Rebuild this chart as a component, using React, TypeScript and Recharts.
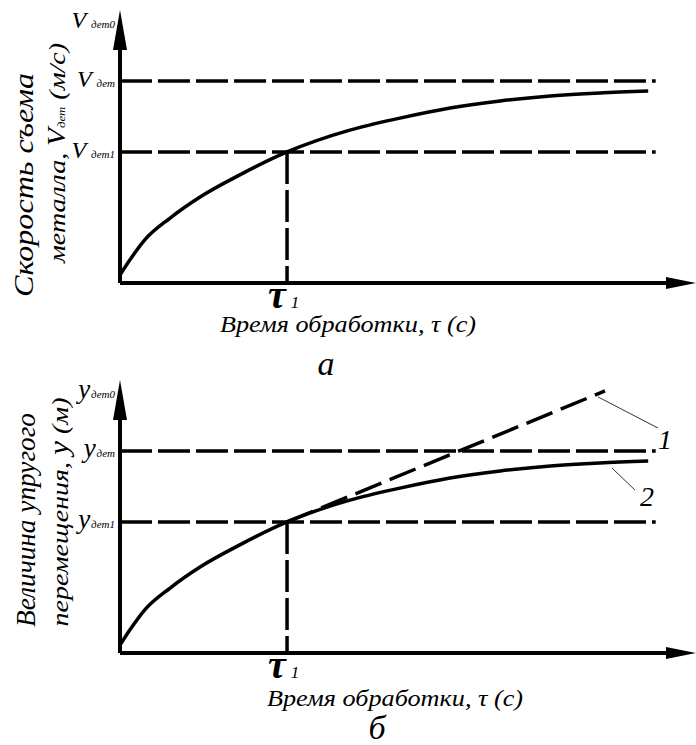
import React from 'react'
import { ComposedChart, Line, XAxis, YAxis, ReferenceLine, ReferenceDot, Scatter } from 'recharts'

// time axis (arbitrary units) and the response curve
const tau = [0, 0.17, 0.43, 0.87, 1.39, 2.08, 2.9, 3.99, 4.86, 5.73, 6.6, 7.47, 8.33, 9.17]
const response = [0.29, 0.84, 1.58, 2.38, 3.15, 3.96, 4.8, 5.6, 6.04, 6.41, 6.67, 6.85, 6.96, 7.03]

// tangent (curve 1) in the lower panel
const tangentTau = [2.9, 8.42]
const tangentVal = [4.8, 9.6]

const tau1 = 2.9
const level1 = 4.8
const levelSteady = 7.4
const levelTop = 9.55
const dashEnd = 9.3
const axisMax = 10

const yTicks = [level1, levelSteady, levelTop]
const yTickSubs = ['дет1', 'дет', 'дет0']
const xTicks = [tau1]

const curve = tau.map((x, i) => ({ x, v: response[i] }))
const tangent = tangentTau.map((x, i) => ({ x, v: tangentVal[i] }))

const FONT = 'Liberation Serif'
const INK = '#000'

const xArrow = [{ x: axisMax, v: 0 }]
const yArrow = [{ x: 0, v: axisMax }]

function RightArrow(p: any) {
  const { cx, cy } = p
  return <polygon points={`${cx},${cy} ${cx - 30},${cy - 6} ${cx - 30},${cy + 6}`} fill={INK} />
}

function UpArrow(p: any) {
  const { cx, cy } = p
  return <polygon points={`${cx},${cy} ${cx - 7},${cy + 40} ${cx + 7},${cy + 40}`} fill={INK} />
}

function YTick({ x, y, payload, sym }: any) {
  const i = yTicks.indexOf(payload.value)
  return (
    <text x={x - 5} y={y + 6} textAnchor="end" fontFamily={FONT} fontStyle="italic" fill={INK}>
      <tspan fontSize={sym === 'V' ? 24 : 27}>{sym}</tspan>
      <tspan fontSize={11} dx={sym === 'V' ? 5 : 1}>{yTickSubs[i]}</tspan>
    </text>
  )
}

function XTick({ x, y }: any) {
  return (
    <text x={x - 19} y={y + 25} fontFamily={FONT} fontStyle="italic" fill={INK}>
      <tspan fontSize={40} fontWeight={700}>τ</tspan>
      <tspan fontSize={17} dx={5}>1</tspan>
    </text>
  )
}

type PanelProps = {
  sym: 'V' | 'y'
  line1: string
  line2a: string
  line2b: string
  l1: [number, number, number]
  l2: [number, number, number]
  titleX: number
  titleY: number
  caption: string
  capX: number
  capY: number
  height: number
  bottom: number
  showTangent?: boolean
}

function Panel(p: PanelProps) {
  const labels = () => (
    <g>
      <text transform={`translate(${p.l1[0]},${p.l1[1]}) rotate(-90)`} textAnchor="middle" fontSize={28}
        textLength={p.l1[2]} lengthAdjust="spacingAndGlyphs" fontFamily={FONT} fontStyle="italic" fill={INK}>
        {p.line1}
      </text>
      <text transform={`translate(${p.l2[0]},${p.l2[1]}) rotate(-90)`} textAnchor="middle" fontSize={24}
        textLength={p.l2[2]} lengthAdjust="spacingAndGlyphs" fontFamily={FONT} fontStyle="italic" fill={INK}>
        {p.line2a}<tspan fontSize={p.sym === 'V' ? 25 : 27}>{p.sym}</tspan>
        {p.sym === 'V' ? <tspan fontSize={11}>дет</tspan> : null}{p.line2b}
      </text>
      <text x={p.titleX} y={p.titleY} textAnchor="middle" fontSize={24} textLength={256}
        lengthAdjust="spacingAndGlyphs" fontFamily={FONT} fontStyle="italic" fill={INK}>
        Время обработки, τ (с)
      </text>
      <text x={p.capX} y={p.capY} textAnchor="middle" fontSize={34} fontFamily={FONT} fontStyle="italic"
        fill={INK}>{p.caption}</text>
    </g>
  )
  return (
    <ComposedChart width={696} height={p.height} margin={{ top: 10, right: 0, bottom: 0, left: 0 }}>
      <XAxis dataKey="x" type="number" domain={[0, axisMax]} ticks={xTicks} axisLine={false} tickLine={false}
        tickSize={0} tickMargin={0} height={p.bottom} tick={<XTick />} label={{ content: labels }} />
      <YAxis type="number" domain={[0, axisMax]} ticks={yTicks} axisLine={false} tickLine={false}
        tickSize={0} tickMargin={0} width={120} tick={(t: any) => <YTick {...t} sym={p.sym} />} />

      <ReferenceLine segment={[{ x: 0, y: levelSteady }, { x: dashEnd, y: levelSteady }]} stroke={INK}
        strokeWidth={3.5} strokeDasharray="32 6" ifOverflow="visible" />
      <ReferenceLine segment={[{ x: 0, y: level1 }, { x: dashEnd, y: level1 }]} stroke={INK}
        strokeWidth={3.5} strokeDasharray="32 6" ifOverflow="visible" />
      <ReferenceLine segment={[{ x: tau1, y: level1 }, { x: tau1, y: 0 }]} stroke={INK}
        strokeWidth={3.5} strokeDasharray="32 6" ifOverflow="visible" />

      <ReferenceLine segment={[{ x: 0, y: 0 }, { x: axisMax - 0.2, y: 0 }]} stroke={INK} strokeWidth={4}
        ifOverflow="visible" />
      <ReferenceLine segment={[{ x: 0, y: 0 }, { x: 0, y: axisMax - 0.5 }]} stroke={INK} strokeWidth={4}
        ifOverflow="visible" />

      {p.showTangent && (
        <Line data={tangent} dataKey="v" type="linear" stroke={INK} strokeWidth={3.5} strokeDasharray="28 9"
          dot={false} isAnimationActive={false} />
      )}
      <Line data={curve} dataKey="v" type="monotone" stroke={INK} strokeWidth={3.5} dot={false}
        isAnimationActive={false} />

      {p.showTangent && (
        <>
          <ReferenceLine segment={[{ x: 8.3, y: 9.38 }, { x: 9.34, y: 8.24 }]} stroke="#333" strokeWidth={1}
            ifOverflow="visible" />
          <ReferenceLine segment={[{ x: 8.54, y: 6.78 }, { x: 8.94, y: 5.97 }]} stroke="#333" strokeWidth={1}
            ifOverflow="visible" />
          <ReferenceDot x={9.46} y={7.8} r={0} ifOverflow="visible"
            shape={(s: any) => <text x={s.cx} y={s.cy + 9} textAnchor="middle" fontFamily={FONT}
              fontStyle="italic" fontSize={28} fill={INK}>1</text>} />
          <ReferenceDot x={9.15} y={5.71} r={0} ifOverflow="visible"
            shape={(s: any) => <text x={s.cx} y={s.cy + 9} textAnchor="middle" fontFamily={FONT}
              fontStyle="italic" fontSize={28} fill={INK}>2</text>} />
        </>
      )}

      <Scatter data={xArrow} dataKey="v" shape={<RightArrow />} isAnimationActive={false} />
      <Scatter data={yArrow} dataKey="v" shape={<UpArrow />} isAnimationActive={false} />
    </ComposedChart>
  )
}

export default function App() {
  return (
    <div style={{ position: 'absolute', left: 0, top: 0, width: 696, height: 745, background: '#fff' }}>
      <div style={{ position: 'absolute', left: 0, top: 0 }}>
        <Panel sym="V" line1="Скорость съема" line2a="металла, " line2b=" (м/с)"
          l1={[33, 185, 224]} l2={[65, 153, 220]} titleX={348} titleY={332} caption="а" capX={326} capY={375}
          height={385} bottom={102} />
      </div>
      <div style={{ position: 'absolute', left: 0, top: 370 }}>
        <Panel sym="y" line1="Величина упругого" line2a="перемещения, " line2b=" (м)"
          l1={[35, 150, 214]} l2={[68, 142, 229]} titleX={395} titleY={336} caption="б" capX={377} capY={369}
          height={375} bottom={92} showTangent />
      </div>
    </div>
  )
}
